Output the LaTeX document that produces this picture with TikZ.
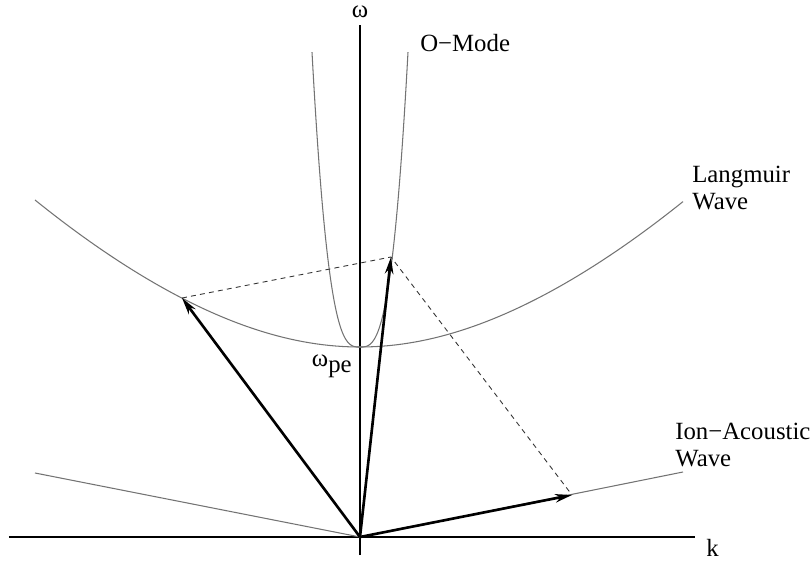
\documentclass[tikz,border=0pt]{standalone}
\usepackage{fontspec}
\setmainfont{Liberation Serif}
\usepackage{tikz}
\usetikzlibrary{positioning,arrows.meta}

\begin{document}
\begin{tikzpicture}[
    x=0.02cm, y=0.02cm,
    font=\fontsize{14.1}{15.5}\selectfont,
    axis/.style={line width=1pt},
    branch/.style={black!55, line width=0.6pt},
    wavevec/.style={-{Stealth[length=3.4mm,width=1.7mm]}, line width=1.5pt},
    closure/.style={dash pattern=on 2.8pt off 2.4pt, line width=0.5pt, black!80},
    label/.style={inner sep=0pt}
]
    \useasboundingbox (-360,-25) rectangle (452,537);

    % axes
    \coordinate (o) at (0,0);
    \coordinate (xstart) at (-351,0);
    \coordinate (xend) at (335,0);
    \coordinate (ybot) at (0,-18);
    \coordinate (ytop) at (0,512);
    \draw[axis] (xstart) -- (xend);
    \draw[axis] (ybot) -- (ytop);
    \node[label] (omega) [above=0.13cm of ytop] {ω};
    \node[label, anchor=west] (k) at (346,-11) {k};

    % dispersion branches
    \draw[branch] plot[domain=-48:48, samples=100]
        (\x, {190 + 2.667*(abs(\x)/10)^3});
    \draw[branch] plot[domain=-325:323, samples=100]
        (\x, {190 + 0.5*(13.92*(\x/100)^2 + 100*sqrt(3.61 + 0.7334*(\x/100)^2) - 190)});
    \coordinate (ialeft) at (-325,64);
    \coordinate (iaright) at (323,65);
    \draw[branch] (o) -- (ialeft);
    \draw[branch] (o) -- (iaright);

    \node[label, anchor=west] (omode) at (60,494) {O−Mode};
    \node[label, anchor=west, align=left] (langmuir) at (332,349) {Langmuir\\Wave};
    \node[label, anchor=west, align=left] (ionac) at (315,92) {Ion−Acoustic\\Wave};
    \node[label, anchor=east] (wpe) at (-8,171) {ω\raisebox{-0.5ex}{pe}};

    % wave vectors
    \coordinate (langm) at (-178,239);
    \coordinate (pump) at (31,280);
    \coordinate (ion) at (212,42);
    \draw[closure] (langm) -- (pump) -- (ion);
    \draw[wavevec] (o) -- (langm);
    \draw[wavevec] (o) -- (pump);
    \draw[wavevec] (o) -- (ion);
\end{tikzpicture}
\end{document}
